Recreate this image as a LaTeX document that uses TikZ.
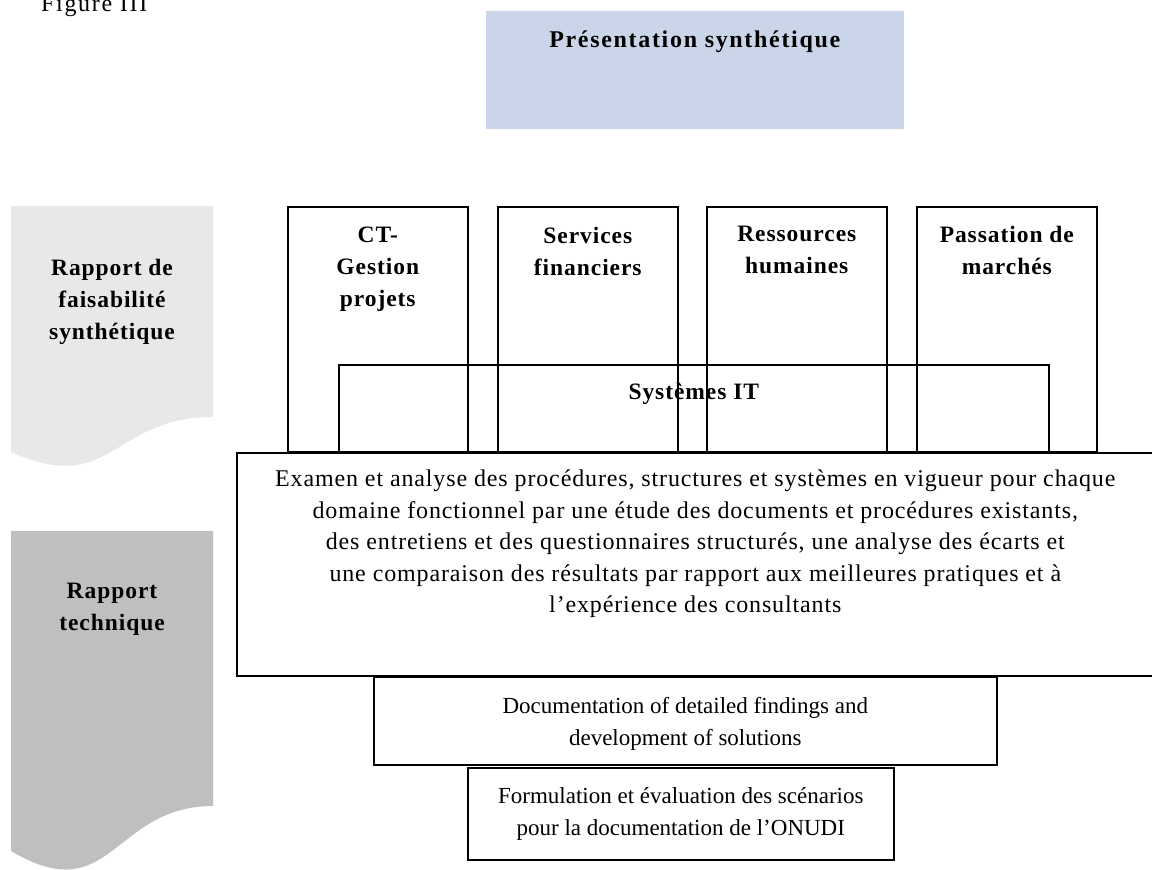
\documentclass[tikz,border=0pt]{standalone}
\usepackage{fontspec}
\setmainfont{Liberation Serif}
\usetikzlibrary{positioning}

\definecolor{presblue}{HTML}{CAD5E9}
\definecolor{docgrey}{HTML}{E8E8E8}
\definecolor{techgrey}{HTML}{BFBFBF}

\begin{document}
\begin{tikzpicture}[
  x=1pt, y=-1pt,
  box/.style={draw, line width=1.6pt, inner sep=0pt, anchor=north west},
  tall/.style={box, minimum width=180, minimum height=245},
  head/.style={inner sep=0pt, align=center,
    font=\fontsize{23.5}{32}\selectfont\bfseries\addfontfeatures{LetterSpace=4}},
  body/.style={inner sep=0pt, align=center,
    font=\fontsize{24}{31.5}\selectfont\addfontfeatures{LetterSpace=3.6}},
  small/.style={inner sep=0pt, align=center,
    font=\fontsize{23}{32}\selectfont}
]
\useasboundingbox (0,0) rectangle (1152,870);
\clip (0,0) rectangle (1152,870);

\node[anchor=base west, inner sep=0pt,
  font=\fontsize{24}{28}\selectfont\addfontfeatures{LetterSpace=7}] (fig) at (41,12) {Figure III};

% top box
\node[box, draw=none, fill=presblue, minimum width=418, minimum height=118] (pres) at (485,10) {};
\node[head, below=21pt of pres.north,
  font=\fontsize{24}{32}\selectfont\bfseries\addfontfeatures{LetterSpace=7}] (presl) {Présentation synthétique};

% side documents
\fill[docgrey] (11,206) -- (213,206) -- (213,417)
  .. controls (112,417) and (112,497) .. (11,452) -- cycle;
\node[head] (faisa) at (112,302) {Rapport de\\faisabilité\\synthétique};
\fill[techgrey] (11,531) -- (213,531) -- (213,806)
  .. controls (112,806) and (112,911) .. (11,851) -- cycle;
\node[head] (tech) at (112,609) {Rapport\\technique};

% functional areas
\node[tall] (ct)  at (287,206) {};
\node[tall] (fin) at (497,206) {};
\node[tall] (rh)  at (706,206) {};
\node[tall] (pm)  at (916,206) {};
\node[box, minimum width=710, minimum height=87] (it) at (338,364) {};

\node[head, below=21pt of ct.north]  (ctl)  {CT-\\Gestion\\projets};
\node[head, below=21pt of fin.north] (finl) {Services\\financiers};
\node[head, below=20pt of rh.north]  (rhl)  {Ressources\\humaines};
\node[head, below=20pt of pm.north]  (pml)  {Passation de\\marchés};
\node[head, below=19pt of it.north]  (itl)  {Systèmes IT};

% analysis steps
\node[box, minimum width=917, minimum height=223] (exam) at (236,452) {};
\node[body, below=18pt of exam.north] (examl)
  {Examen et analyse des procédures, structures et systèmes en vigueur pour chaque\\
   domaine fonctionnel par une étude des documents et procédures existants,\\
   des entretiens et des questionnaires structurés, une analyse des écarts et\\
   une comparaison des résultats par rapport aux meilleures pratiques et à\\
   l’expérience des consultants};
\node[box, minimum width=623, minimum height=88] (docu) at (373,676) {};
\node[small, yshift=-3pt] (docul) at (docu.center) {Documentation of detailed findings and\\development of solutions};
\node[box, minimum width=426, minimum height=92] (form) at (467,767) {};
\node[small] (forml) at (form.center) {Formulation et évaluation des scénarios\\pour la documentation de l’ONUDI};
\end{tikzpicture}
\end{document}
